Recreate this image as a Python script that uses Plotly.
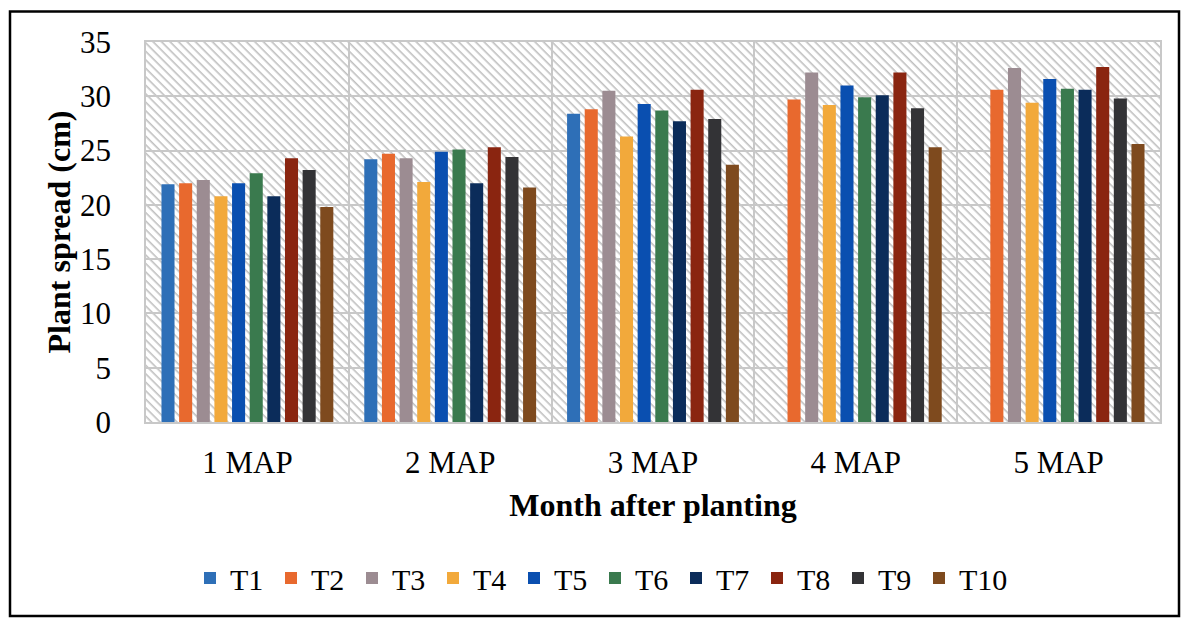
import base64
import plotly.graph_objects as go

categories = ["1 MAP", "2 MAP", "3 MAP", "4 MAP", "5 MAP"]
series_names = ["T1", "T2", "T3", "T4", "T5", "T6", "T7", "T8", "T9", "T10"]
T1 = [21.9, 24.2, 28.4, None, None]
T2 = [22.0, 24.7, 28.8, 29.7, 30.6]
T3 = [22.3, 24.3, 30.5, 32.2, 32.6]
T4 = [20.8, 22.1, 26.3, 29.2, 29.4]
T5 = [22.0, 24.9, 29.3, 31.0, 31.6]
T6 = [22.9, 25.1, 28.7, 29.9, 30.7]
T7 = [20.8, 22.0, 27.7, 30.1, 30.6]
T8 = [24.3, 25.3, 30.6, 32.2, 32.7]
T9 = [23.2, 24.4, 27.9, 28.9, 29.8]
T10 = [19.8, 21.6, 23.7, 25.3, 25.6]
series_values = [T1, T2, T3, T4, T5, T6, T7, T8, T9, T10]
colors = ["#2E6FB7", "#E8692E", "#9C8C92", "#F2A93B", "#0A4FB0",
          "#3A7A4E", "#0B2C5A", "#8A2510", "#333336", "#7E4A1E"]
y_ticks = [0, 5, 10, 15, 20, 25, 30, 35]

FONT = "Liberation Serif, Times New Roman, serif"

# plot area geometry (pixels)
W, H = 1181, 618
L, R, T, B = 146, 21, 42, 196
PW, PH = W - L - R, H - T - B

# hatched background pattern as SVG data URI
svg = (
    f'<svg xmlns="http://www.w3.org/2000/svg" width="{PW}" height="{PH}">'
    '<defs><pattern id="h" patternUnits="userSpaceOnUse" width="6" height="6" '
    'patternTransform="rotate(45)">'
    '<rect width="6" height="6" fill="#ffffff"/>'
    '<line x1="0" y1="0" x2="6" y2="0" stroke="#c0c0c0" stroke-width="3.2"/>'
    '</pattern></defs>'
    f'<rect width="{PW}" height="{PH}" fill="url(#h)"/></svg>'
)
svg_uri = "data:image/svg+xml;base64," + base64.b64encode(svg.encode()).decode()

fig = go.Figure()
for name, vals, col in zip(series_names, series_values, colors):
    fig.add_trace(go.Bar(name=name, x=categories, y=vals, marker_color=col,
                         marker_line_width=0,
                         legendwidth=60 if name == "T10" else 36))

px2x = lambda px: (px - L) / PW
px2y = lambda py: (H - B - py) / PH

fig.update_layout(
    width=W, height=H,
    margin=dict(l=L, r=R, t=T, b=B),
    paper_bgcolor="white",
    plot_bgcolor="rgba(0,0,0,0)",
    barmode="group",
    bargap=0.13,
    bargroupgap=0.26,
    font=dict(family=FONT, color="black", size=31),
    images=[dict(source=svg_uri, xref="paper", yref="paper", x=0, y=1,
                 sizex=1, sizey=1, xanchor="left", yanchor="top",
                 sizing="stretch", layer="below")],
    xaxis=dict(
        type="category",
        tickson="boundaries",
        showgrid=True, gridcolor="#c8c8c8", gridwidth=1.5,
        showline=True, mirror=True, linecolor="#c8c8c8", linewidth=1.5,
        ticks="", tickfont=dict(size=31, family=FONT), ticklabelstandoff=12,
        title=dict(text="<b>Month after planting</b>",
                   font=dict(size=32, family=FONT), standoff=15),
    ),
    yaxis=dict(
        range=[0, 35], tickvals=y_ticks,
        showgrid=True, gridcolor="#c8c8c8", gridwidth=1.5,
        showline=True, mirror=True, linecolor="#c8c8c8", linewidth=1.5,
        zeroline=False, ticks="", ticklabelstandoff=27,
        tickfont=dict(size=31, family=FONT),
        title=dict(text="<b>Plant spread (cm)</b>",
                   font=dict(size=32, family=FONT), standoff=0),
    ),
    legend=dict(orientation="h", x=px2x(190), xanchor="left",
                y=px2y(578), yanchor="middle",
                font=dict(size=30, family=FONT),
                itemwidth=30, traceorder="normal",
                bgcolor="rgba(0,0,0,0)"),
    shapes=[dict(type="rect", xref="paper", yref="paper",
                 x0=px2x(10), x1=px2x(1179), y0=px2y(616), y1=px2y(11.5),
                 line=dict(color="black", width=2.5), fillcolor="rgba(0,0,0,0)")],
)

fig.write_html("out.html")
